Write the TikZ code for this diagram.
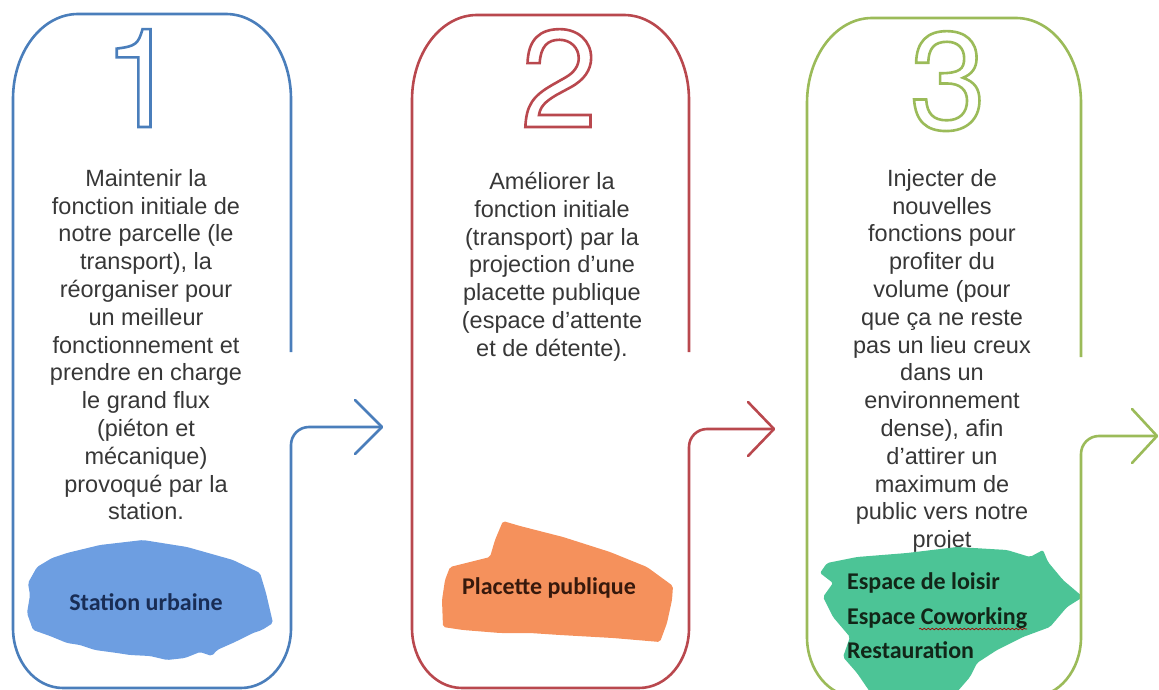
\documentclass[tikz,border=0pt]{standalone}
\usepackage{fontspec}
\setmainfont{Liberation Sans}
\newfontfamily\calibri{Carlito}
\newfontfamily\heros{TeX Gyre Heros}
\usetikzlibrary{decorations.pathmorphing}
\definecolor{bluep}{RGB}{74,126,187}
\definecolor{redp}{RGB}{185,72,78}
\definecolor{greenp}{RGB}{155,187,89}
\definecolor{blueblob}{RGB}{109,158,225}
\definecolor{orangeblob}{RGB}{245,145,92}
\definecolor{greenblob}{RGB}{76,196,150}
\definecolor{bodytext}{RGB}{55,55,55}
\definecolor{navytext}{RGB}{25,45,85}
\definecolor{browntext}{RGB}{55,25,12}
\definecolor{darkgreentext}{RGB}{18,38,24}
% outlined (stroke only) text
\newcommand{\outlinedtext}[2]{{\color{#1}\special{pdf:literal direct 1 Tr 2.6 w}#2\special{pdf:literal direct 0 Tr}}}
% #1 colour, #2 left, #3 right, #4 top, #5 bottom, #6 end of upper right side, #7 arrow y, #8 tip x, #9 chevron x
\newcommand{\drawpanel}[9]{%
  \draw[panelline,#1] (#3,#6) -- (#3,#4+85)
    .. controls (#3,#4+38) and (#3-29,#4) .. (#3-65,#4) -- (#2+65,#4)
    .. controls (#2+29,#4) and (#2,#4+38) .. (#2,#4+85) -- (#2,#5-60)
    .. controls (#2,#5-27) and (#2+22,#5) .. (#2+50,#5) -- (#3-50,#5)
    .. controls (#3-22,#5) and (#3,#5-27) .. (#3,#5-60) -- (#3,#7+18)
    .. controls (#3,#7+8) and (#3+8,#7) .. (#3+18,#7) -- (#8,#7);
  \draw[panelline,#1,line cap=round,line join=round] (#9,#7-27) -- (#8,#7) -- (#9,#7+27);
}
\begin{document}
\begin{tikzpicture}[x=1pt,y=-1pt,
  panelline/.style={line width=2.6pt},
  digit/.style={font=\heros\fontsize{138}{138}\selectfont, anchor=base, inner sep=0pt},
  body/.style={font=\fontsize{23.5}{27.8}\selectfont, text=bodytext, align=center, anchor=north, inner sep=0pt},
  bloblabel/.style={font=\calibri\bfseries\fontsize{24}{28}\selectfont, inner sep=0pt},
  blob/.style={rounded corners=2pt}]
\useasboundingbox (0,0) rectangle (1159,690);
\begin{scope}
\clip (0,0) rectangle (1159,690);

% digits
\node[digit] (n1) at (141,127) {\outlinedtext{bluep}{1}};
\node[digit] (n2) at (559,127) {\outlinedtext{redp}{2}};
\node[digit] (n3) at (948,129) {\outlinedtext{greenp}{3}};

% body texts
\node[body] (t1) at (146,169) {Maintenir la\\fonction initiale de\\notre parcelle (le\\transport), la\\réorganiser pour\\un meilleur\\fonctionnement et\\prendre en charge\\le grand flux\\(piéton et\\mécanique)\\provoqué par la\\station.};
\node[body] (t2) at (552,172) {Améliorer la\\fonction initiale\\(transport) par la\\projection d’une\\placette publique\\(espace d’attente\\et de détente).};
\node[body] (t3) at (942,169) {Injecter de\\nouvelles\\fonctions pour\\profiter du\\volume (pour\\que ça ne reste\\pas un lieu creux\\dans un\\environnement\\dense), afin\\d’attirer un\\maximum de\\public vers notre\\projet};

% blobs
\fill[blob,blueblob] (37,567) -- (52,558) -- (67,553) -- (100,545) -- (143,540) -- (187,547) -- (233,560) -- (260,573) -- (266,593) -- (273,623) -- (262,630) -- (253,633) -- (235,642) -- (217,650) -- (212,656) -- (200,652) -- (185,658) -- (167,660) -- (150,656) -- (130,655) -- (117,653) -- (95,650) -- (80,645) -- (67,643) -- (50,636) -- (33,630) -- (27,613) -- (30,595) -- (28,583) -- cycle;
\fill[blob,orangeblob] (503,521) -- (520,526) -- (563,537) -- (610,552) -- (647,567) -- (673,586) -- (672,600) -- (667,623) -- (660,642) -- (613,638) -- (560,635) -- (530,633) -- (500,633) -- (463,630) -- (443,627) -- (442,600) -- (445,580) -- (450,567) -- (470,562) -- (490,557) -- (495,540) -- cycle;
\fill[blob,greenblob] (827,563) -- (857,557) -- (907,553) -- (957,547) -- (1007,550) -- (1030,557) -- (1043,550) -- (1048,562) -- (1063,580) -- (1083,597) -- (1067,607) -- (1050,627) -- (1023,637) -- (997,650) -- (977,663) -- (970,677) -- (957,692) -- (870,692) -- (857,673) -- (843,657) -- (850,637) -- (833,617) -- (823,597) -- (833,583) -- (820,573) -- cycle;

% panels and arrows
\drawpanel{bluep}{13}{291}{14}{688}{352}{427}{382}{355}
\drawpanel{redp}{412}{689}{15}{688}{352}{429}{774}{748}
\drawpanel{greenp}{807}{1081}{18}{697}{357}{436}{1157}{1132}

% blob labels
\node[bloblabel,text=navytext] (s1) at (146,602) {Station urbaine};
\node[bloblabel,text=browntext] (s2) at (549,588) {Placette publique};
\node[bloblabel,text=darkgreentext,anchor=base west] (g1) at (847,589) {Espace de loisir};
\node[bloblabel,text=darkgreentext,anchor=base west] (g2) at (847,624) {Espace Coworking};
\node[bloblabel,text=darkgreentext,anchor=base west] (g3) at (847,658) {Restauration};
\draw[red!65!black,line width=0.7pt,decorate,decoration={snake,amplitude=0.8pt,segment length=4pt}] (919,629) -- (1027,629);
\end{scope}
\end{tikzpicture}
\end{document}
